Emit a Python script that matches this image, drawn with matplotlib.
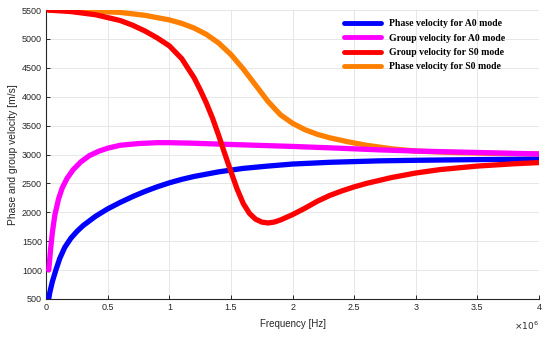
import numpy as np
import matplotlib.pyplot as plt
from matplotlib.ticker import FuncFormatter

# frequencies in MHz, velocities in m/s
f_a0_phase = [0.02, 0.03, 0.05, 0.08, 0.11, 0.15, 0.2, 0.25, 0.3, 0.4, 0.5, 0.6, 0.7,
              0.8, 0.9, 1.0, 1.1, 1.2, 1.3, 1.4, 1.6, 1.8, 2.0, 2.3, 2.7, 3.0, 3.5, 4.0]
v_a0_phase = [500, 620, 800, 1010, 1200, 1390, 1550, 1670, 1770, 1930, 2060, 2170, 2270,
              2360, 2440, 2510, 2570, 2620, 2660, 2700, 2760, 2800, 2835, 2865, 2890, 2900,
              2912, 2920]

f_a0_group = [0.02, 0.025, 0.035, 0.05, 0.07, 0.1, 0.13, 0.17, 0.22, 0.28, 0.35, 0.43, 0.5,
              0.6, 0.75, 0.9, 1.0, 1.2, 1.41, 1.7, 2.0, 2.37, 2.71, 3.0, 3.5, 4.0]
v_a0_group = [1000, 1100, 1350, 1650, 1950, 2230, 2420, 2590, 2740, 2870, 2980, 3060, 3110,
              3160, 3190, 3205, 3205, 3195, 3180, 3160, 3140, 3110, 3080, 3060, 3035, 3010]

f_s0_group = [0.02, 0.2, 0.4, 0.6, 0.7, 0.8, 0.9, 1.0, 1.1, 1.2, 1.25, 1.3, 1.35, 1.4,
              1.45, 1.5, 1.55, 1.6, 1.65, 1.7, 1.75, 1.8, 1.85, 1.9, 2.0, 2.1, 2.2, 2.3,
              2.4, 2.5, 2.6, 2.8, 3.0, 3.2, 3.5, 3.8, 4.0]
v_s0_group = [5500, 5475, 5420, 5320, 5240, 5140, 5020, 4880, 4660, 4330, 4120, 3890, 3630,
              3330, 3010, 2700, 2400, 2150, 1980, 1880, 1830, 1815, 1830, 1865, 1960, 2070,
              2190, 2290, 2370, 2440, 2500, 2600, 2680, 2740, 2800, 2840, 2860]

f_s0_phase = [0.02, 0.3, 0.6, 0.8, 1.0, 1.1, 1.2, 1.3, 1.4, 1.5, 1.6, 1.7, 1.8, 1.9, 2.0,
              2.1, 2.2, 2.3, 2.45, 2.6, 2.8, 3.0, 3.3, 3.6, 4.0]
v_s0_phase = [5500, 5490, 5460, 5410, 5330, 5270, 5190, 5080, 4930, 4730, 4480, 4200, 3920,
              3690, 3540, 3430, 3350, 3290, 3220, 3160, 3100, 3060, 3035, 3020, 3010]

MHZ = 1e6
axis_col = '#262626'

plt.rcParams['font.family'] = ['Liberation Sans', 'DejaVu Sans']

fig = plt.figure(figsize=(5.5, 3.37), dpi=100)
ax = fig.add_axes([0.084, 0.113, 0.896, 0.857])

lw = 3.8
h1, = ax.plot(np.array(f_a0_phase) * MHZ, v_a0_phase, color='#0000ff', lw=lw,
              solid_capstyle='round', zorder=3, label='Phase velocity for A0 mode')
h2, = ax.plot(np.array(f_a0_group) * MHZ, v_a0_group, color='#ff00ff', lw=lw,
              solid_capstyle='round', zorder=4, label='Group velocity for A0 mode')
h3, = ax.plot(np.array(f_s0_group) * MHZ, v_s0_group, color='#ff0000', lw=lw,
              solid_capstyle='round', zorder=5, label='Group velocity for S0 mode')
h4, = ax.plot(np.array(f_s0_phase) * MHZ, v_s0_phase, color='#ff8000', lw=lw,
              solid_capstyle='round', zorder=2, label='Phase velocity for S0 mode')

ax.set_xlim(0, 4e6)
ax.set_ylim(500, 5500)
ax.set_xticks(np.arange(0, 4.01, 0.5) * MHZ)
ax.set_yticks(np.arange(500, 5501, 500))
ax.xaxis.set_major_formatter(FuncFormatter(lambda x, pos: f'{x / MHZ:g}'))
ax.annotate(r'$\times10^{6}$', xy=(1, 0), xycoords='axes fraction', xytext=(0, -19.5),
            textcoords='offset points', ha='right', va='center', fontsize=6.5,
            color=axis_col)

ax.grid(True, color='#e3e3e3', lw=0.6)
ax.set_axisbelow(True)
for s in ['top', 'right']:
    ax.spines[s].set_visible(False)
for s in ['left', 'bottom']:
    ax.spines[s].set_color(axis_col)
    ax.spines[s].set_linewidth(0.8)
ax.tick_params(direction='in', length=3, width=0.7, colors=axis_col, labelsize=6.5, pad=3)

ax.set_xlabel('Frequency [Hz]', fontsize=7, color=axis_col, labelpad=5)
ax.set_ylabel('Phase and group velocity [m/s]', fontsize=7.4, color=axis_col, labelpad=3)

leg = ax.legend(handles=[h1, h2, h3, h4], loc='upper right', bbox_to_anchor=(0.95, 0.998),
                frameon=False, handlelength=3.8, handletextpad=0.9, labelspacing=0.55,
                prop={'family': 'Liberation Serif', 'weight': 'bold', 'size': 7})
for line in leg.get_lines():
    line.set_linewidth(3.5)

fig.savefig('out.png', dpi=100)
